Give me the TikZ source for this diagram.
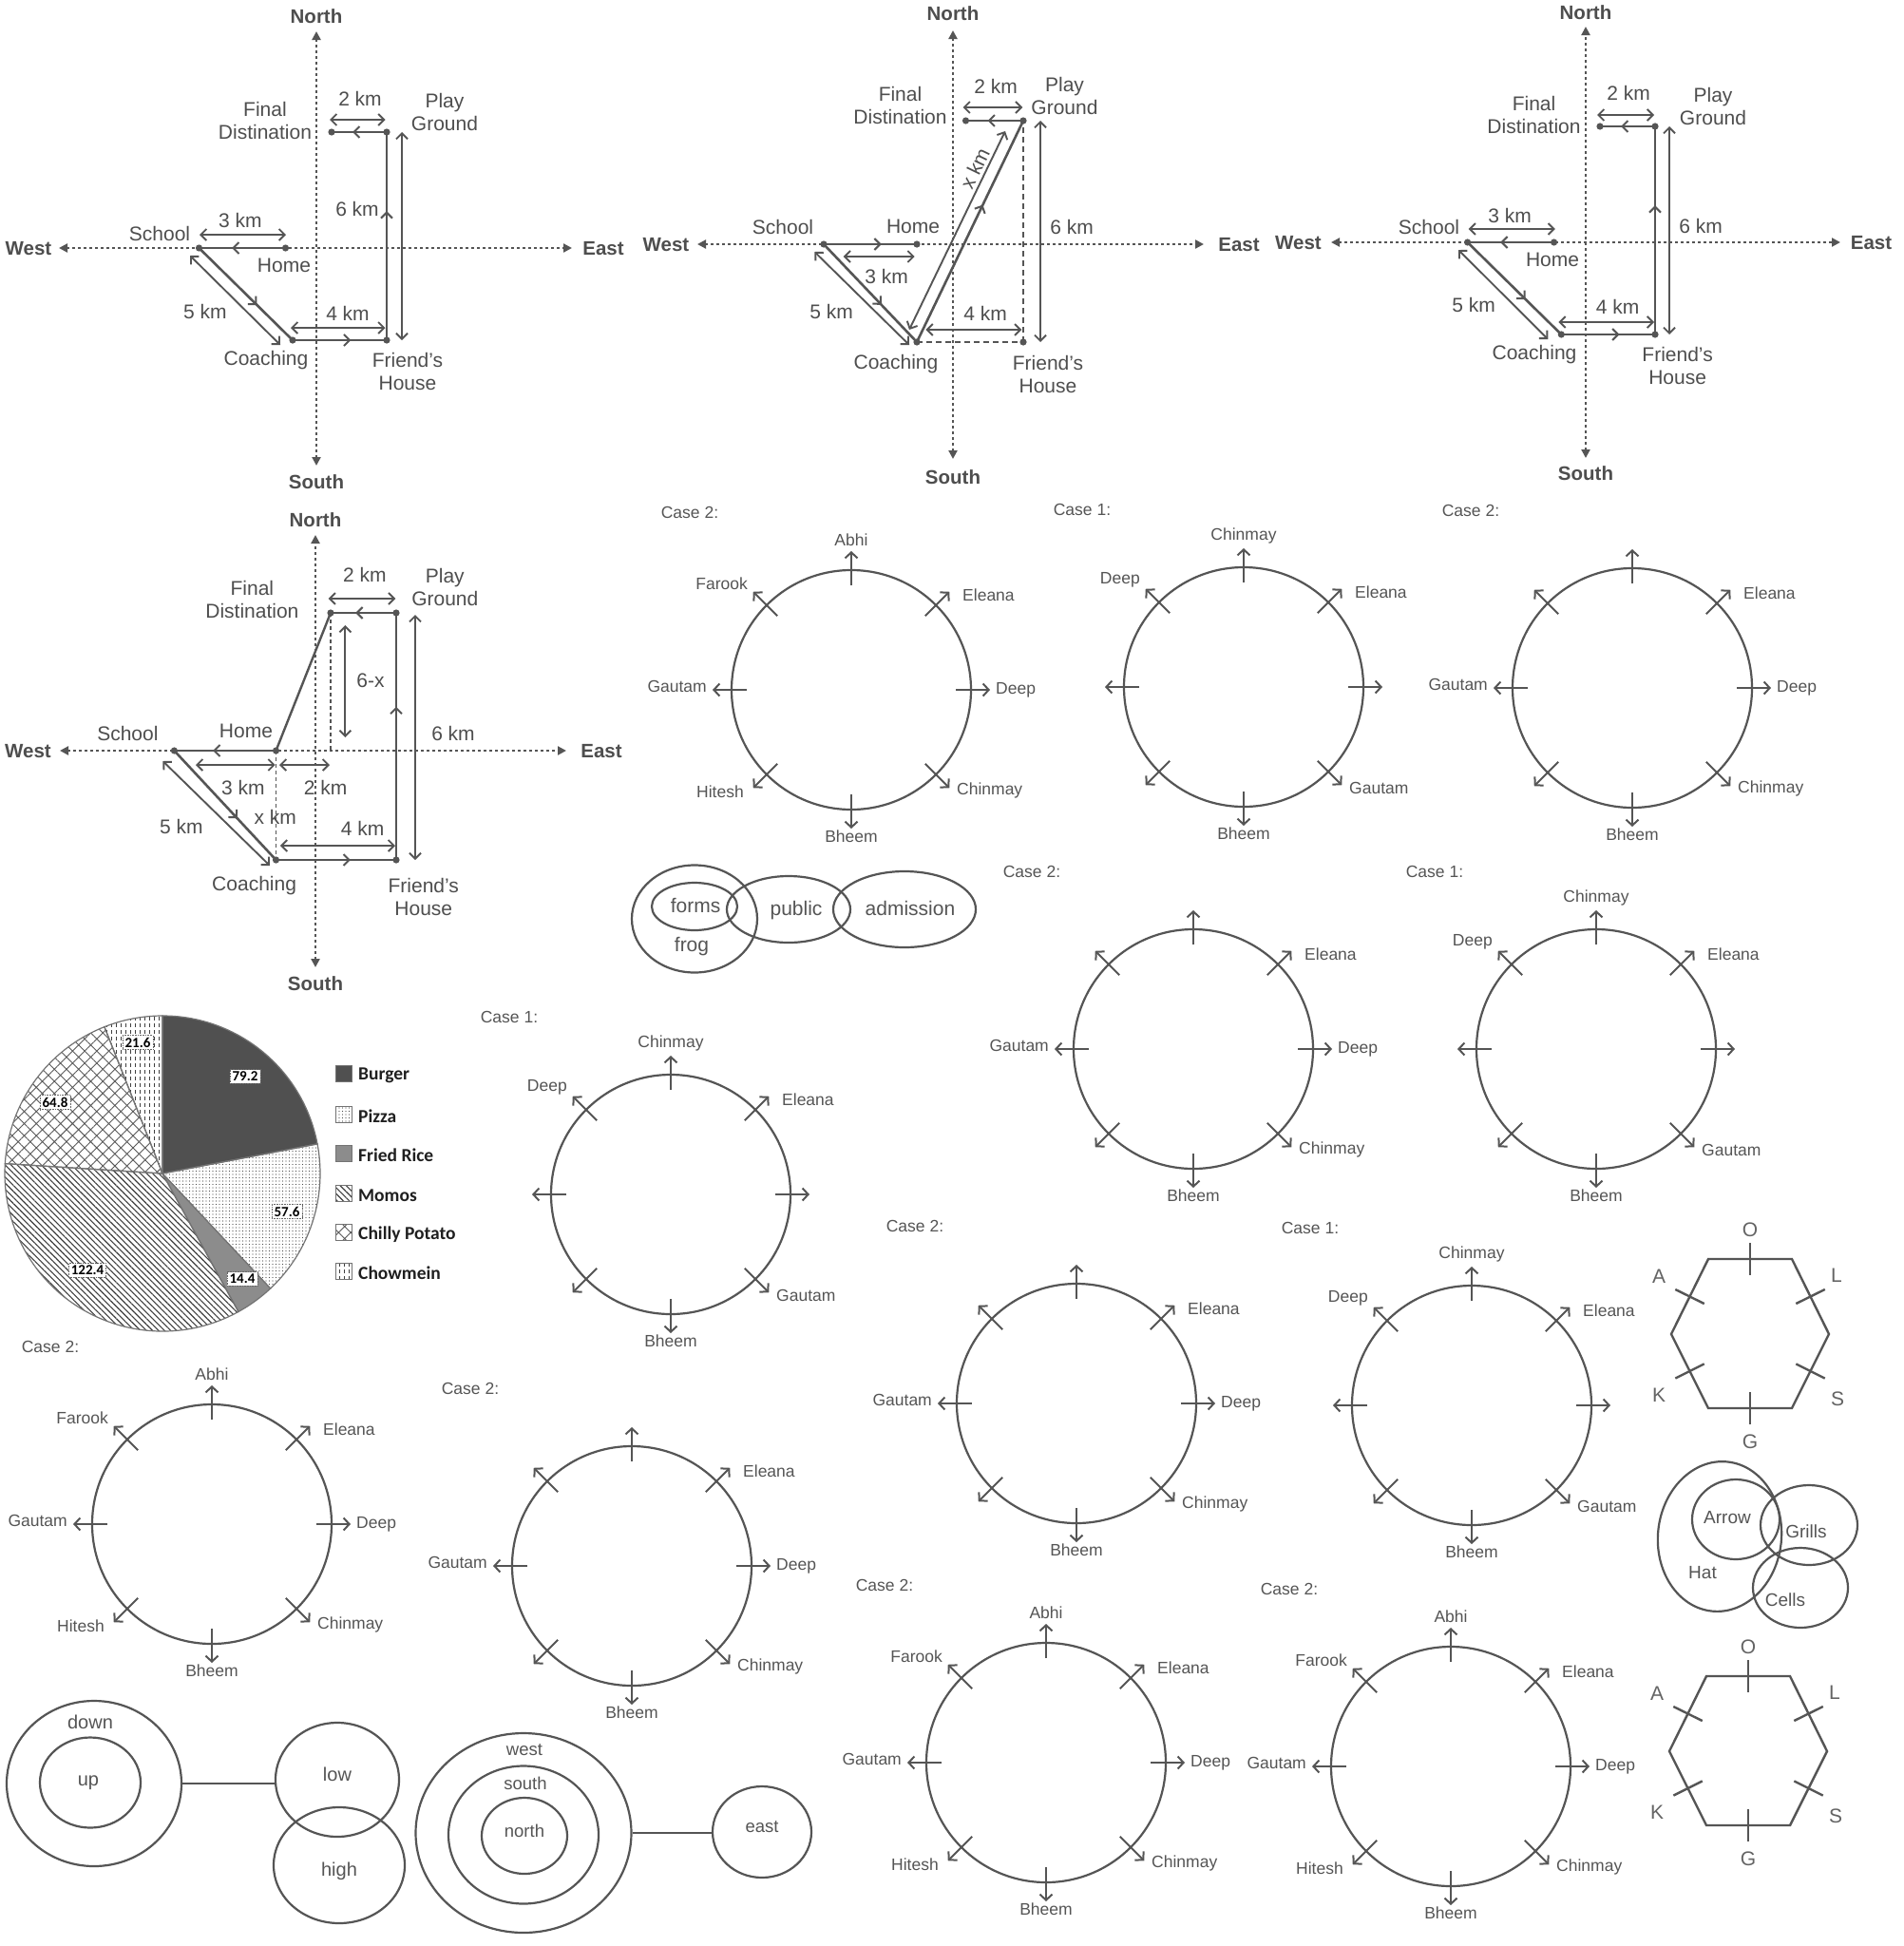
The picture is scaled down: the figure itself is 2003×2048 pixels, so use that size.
\documentclass[tikz,border=0pt]{standalone}
\usepackage{fontspec}
\setmainfont{Liberation Sans}
\newfontfamily\carl{Carlito}
\usetikzlibrary{arrows.meta,calc,decorations.markings,patterns.meta,shapes.geometric}
\definecolor{cg}{RGB}{85,85,85}
\definecolor{tg}{RGB}{78,78,78}
\definecolor{lg}{RGB}{100,100,100}
\definecolor{burg}{RGB}{80,80,80}
\definecolor{frice}{RGB}{140,140,140}
\pgfdeclarepattern{name=vdash, type=uncolored,
  bottom left={\pgfpoint{-0.5pt}{-0.5pt}}, top right={\pgfpoint{5.5pt}{7.5pt}},
  tile size={\pgfpoint{5pt}{7pt}},
  code={\pgfsetlinewidth{1pt}\pgfpathmoveto{\pgfpoint{2.5pt}{1pt}}\pgfpathlineto{\pgfpoint{2.5pt}{4.5pt}}\pgfusepath{stroke}}}
\tikzset{
  axisline/.style={draw=cg, line width=2.2pt, dash pattern=on 2.4pt off 3.6pt,
    {Triangle[length=9pt,width=9pt]}-{Triangle[length=9pt,width=9pt]}},
  route/.style={draw=cg, line width=2.6pt, postaction={decorate},
    decoration={markings, mark=at position 0.62 with {\arrow{Straight Barb[length=6pt,width=12pt,line width=2pt]}}}},
  plainroute/.style={draw=cg, line width=2.4pt},
  dist/.style={draw=cg, line width=1.9pt, {Straight Barb[length=6pt,width=12pt]}-{Straight Barb[length=6pt,width=12pt]}},
  dashroute/.style={draw=cg, line width=1.8pt, dash pattern=on 6pt off 4pt},
  dotroute/.style={draw=cg, line width=1.6pt, dash pattern=on 4pt off 3pt},
  dlbl/.style={font=\fontsize{21}{24}\selectfont, text=tg, align=center, inner sep=1pt},
  compass/.style={font=\bfseries\fontsize{20.5}{24}\selectfont, text=tg, inner sep=1pt},
  ringc/.style={circle, draw=cg, line width=2.2pt, minimum size=252pt, inner sep=0pt},
  seatarrow/.style={draw=cg, line width=2pt, -{Straight Barb[length=6pt,width=13pt]}},
  caselbl/.style={font=\fontsize{17.5}{20}\selectfont, text=cg, inner sep=1pt},
  seatlbl/.style={font=\fontsize{17.5}{20}\selectfont, text=cg, inner sep=2pt},
  ell/.style={ellipse, draw=cg, line width=2.2pt, inner sep=0pt},
  vtxt/.style={font=\fontsize{20}{23}\selectfont, text=cg, inner sep=1pt},
  hexline/.style={draw=cg, line width=2.4pt},
  hexlbl/.style={font=\fontsize{21}{24}\selectfont, text=lg, inner sep=1pt},
  pv/.style={font=\carl\bfseries\fontsize{15}{17}\selectfont, fill=white, draw=black!60, densely dotted, line width=0.6pt, inner sep=2.5pt, text=black},
  legsq/.style={rectangle, minimum size=17pt, draw=black!55, line width=0.8pt, inner sep=0pt},
  legtxt/.style={font=\carl\bfseries\fontsize{19.5}{22}\selectfont, text=black!88, anchor=west, inner sep=1pt},
  slice/.style={draw=black!55, line width=1.2pt},
}
% ring macros
\newcommand\ring[3]{%
  \node[ringc] (#1) at (#2) {};
  \node[caselbl] (#1-case) at ($(#1)+(-170,-187)$) {#3};
  \foreach \ang in {0,45,...,315}{\draw[seatarrow] ($(#1)+({-\ang}:110)$) -- ($(#1)+({-\ang}:146)$);}
}
\newcommand\seat[3]{\csname seatdir#2\endcsname{#1}{#3}}
\newcommand\seatdirN[2]{\node[seatlbl,anchor=south,yshift=3pt] (#1-N) at ($(#1)+(0,-146)$) {#2};}
\newcommand\seatdirNE[2]{\node[seatlbl,anchor=west,xshift=12pt,yshift=-3pt] (#1-NE) at ($(#1)+(103,-103)$) {#2};}
\newcommand\seatdirE[2]{\node[seatlbl,anchor=west,xshift=4pt] (#1-E) at ($(#1)+(146,0)$) {#2};}
\newcommand\seatdirSE[2]{\node[seatlbl,anchor=west,xshift=6pt,yshift=-3pt] (#1-SE) at ($(#1)+(103,103)$) {#2};}
\newcommand\seatdirS[2]{\node[seatlbl,anchor=north] (#1-S) at ($(#1)+(0,146)$) {#2};}
\newcommand\seatdirSW[2]{\node[seatlbl,anchor=east,xshift=-8pt,yshift=-4pt] (#1-SW) at ($(#1)+(-103,103)$) {#2};}
\newcommand\seatdirW[2]{\node[seatlbl,anchor=east,xshift=-4pt,yshift=4pt] (#1-W) at ($(#1)+(-146,0)$) {#2};}
\newcommand\seatdirNW[2]{\node[seatlbl,anchor=south east,xshift=-4pt] (#1-NW) at ($(#1)+(-103,-103)$) {#2};}
% hexagon macro
\newcommand\hexa[2]{%
  \coordinate (#1c) at (#2);
  \coordinate (#1a) at ($(#1c)+(-44,-79)$); \coordinate (#1b) at ($(#1c)+(44,-79)$);
  \coordinate (#1r) at ($(#1c)+(83,0)$);    \coordinate (#1d) at ($(#1c)+(44,78)$);
  \coordinate (#1e) at ($(#1c)+(-44,78)$);  \coordinate (#1l) at ($(#1c)+(-83,0)$);
  \draw[hexline] (#1a) -- (#1b) -- (#1r) -- (#1d) -- (#1e) -- (#1l) -- cycle;
  \foreach \p/\q in {a/b, b/r, r/d, d/e, e/l, l/a}{
    \draw[hexline] ($($(#1\p)!0.5!(#1\q)$)!17pt!90:(#1\q)$) -- ($($(#1\p)!0.5!(#1\q)$)!17pt!-90:(#1\q)$);}
  \node[hexlbl] (#1-O) at ($(#1c)+(0,-110)$) {O};
  \node[hexlbl] (#1-A) at ($(#1c)+(-96,-61)$) {A};
  \node[hexlbl] (#1-L) at ($(#1c)+(91,-62)$) {L};
  \node[hexlbl] (#1-K) at ($(#1c)+(-96,64)$) {K};
  \node[hexlbl] (#1-S) at ($(#1c)+(92,68)$) {S};
  \node[hexlbl] (#1-G) at ($(#1c)+(0,113)$) {G};
}
\begin{document}
\begin{tikzpicture}[x=1pt,y=-1pt]
\useasboundingbox[fill=white] (0,0) rectangle (2003,2048);

%================ Diagram 1 =================
\coordinate (a-n) at (333,33); \coordinate (a-s) at (333,490);
\coordinate (a-w) at (62,261); \coordinate (a-e) at (602,261);
\draw[axisline] (a-s) -- (a-n);
\draw[axisline] (a-w) -- (a-e);
\node[compass] (a-nl) at (333,17) {North};
\node[compass] (a-sl) at (333,507) {South};
\node[compass] (a-wl) at (30,262) {West};
\node[compass] (a-el) at (635,262) {East};
\coordinate (a-sc) at (209.5,261); \coordinate (a-ho) at (300.5,261);
\coordinate (a-co) at (308,358); \coordinate (a-fr) at (407,358);
\coordinate (a-pl) at (407,139); \coordinate (a-fi) at (349,139);
\draw[route] (a-ho) -- (a-sc);
\draw[route] (a-sc) -- (a-co);
\draw[route] (a-co) -- (a-fr);
\draw[route] (a-fr) -- (a-pl);
\draw[route] (a-pl) -- (a-fi);
\foreach \p in {sc,ho,co,fr,pl,fi}{\fill[cg] (a-\p) circle[radius=3.6];}
\draw[dist] ([shift={(0.5,-14)}]a-sc) -- ([shift={(0.5,-14)}]a-ho);
\draw[dist] ([shift={(-9.5,8)}]a-sc) -- ([shift={(-13,5)}]a-co);
\draw[dist] ([shift={(-2,-13)}]a-co) -- ([shift={(-1.5,-13)}]a-fr);
\draw[dist] ([shift={(16,0)}]a-pl) -- ([shift={(16,0)}]a-fr);
\draw[dist] ([shift={(-2,-13)}]a-fi) -- ([shift={(-1.5,-13)}]a-pl);
\node[dlbl] (a-l3) at (253,232) {3 km};
\node[dlbl] (a-l5) at (216,328) {5 km};
\node[dlbl] (a-l4) at (366,330) {4 km};
\node[dlbl] (a-l6) at (376,220) {6 km};
\node[dlbl] (a-l2) at (379,104) {2 km};
\node[dlbl] (a-tsc) at (168,246) {School};
\node[dlbl] (a-tho) at (299,279) {Home};
\node[dlbl] (a-tco) at (280,379) {Coaching};
\node[dlbl] (a-tfr) at (429,391) {Friend’s\\House};
\node[dlbl] (a-tfi) at (279,127) {Final\\Distination};
\node[dlbl] (a-tpl) at (468,118) {Play\\Ground};

%================ Diagram 2 =================
\coordinate (b-n) at (1003,32); \coordinate (b-s) at (1003,483);
\coordinate (b-w) at (734,257); \coordinate (b-e) at (1267,257);
\draw[axisline] (b-s) -- (b-n);
\draw[axisline] (b-w) -- (b-e);
\node[compass] (b-nl) at (1003,14) {North};
\node[compass] (b-sl) at (1003,502) {South};
\node[compass] (b-wl) at (701,258) {West};
\node[compass] (b-el) at (1304,258) {East};
\coordinate (b-sc) at (867,257); \coordinate (b-ho) at (965,257);
\coordinate (b-co) at (965,360); \coordinate (b-fr) at (1077,360);
\coordinate (b-pl) at (1077,127); \coordinate (b-fi) at (1016.5,127);
\draw[dashroute] (b-co) -- (b-fr);
\draw[dashroute] (b-fr) -- (b-pl);
\draw[route] (b-sc) -- (b-ho);
\draw[route] (b-sc) -- (b-co);
\draw[route] (b-co) -- (b-pl);
\draw[route] (b-pl) -- (b-fi);
\foreach \p in {sc,ho,co,fr,pl,fi}{\fill[cg] (b-\p) circle[radius=3.6];}
\draw[dist] ([shift={(20.7,13)}]b-sc) -- ([shift={(-2.3,13)}]b-ho);
\draw[dist] ([shift={(-9.7,8)}]b-sc) -- ([shift={(-8,3)}]b-co);
\draw[dist] ([shift={(-8,-13)}]b-co) -- ([shift={(-19,11)}]b-pl);
\draw[dist] ([shift={(9.4,-13)}]b-co) -- ([shift={(-1.6,-13)}]b-fr);
\draw[dist] ([shift={(18,0)}]b-pl) -- ([shift={(18,0)}]b-fr);
\draw[dist] ([shift={(-3,-14)}]b-fi) -- ([shift={(-0.7,-14)}]b-pl);
\node[dlbl] (b-l3) at (933,291) {3 km};
\node[dlbl] (b-l5) at (875,328) {5 km};
\node[dlbl, rotate=64.2] (b-lx) at (1026,177) {x km};
\node[dlbl] (b-l4) at (1037,330) {4 km};
\node[dlbl] (b-l6) at (1128,239) {6 km};
\node[dlbl] (b-l2) at (1048,91) {2 km};
\node[dlbl] (b-tsc) at (824,239) {School};
\node[dlbl] (b-tho) at (961,238) {Home};
\node[dlbl] (b-tco) at (943,383) {Coaching};
\node[dlbl] (b-tfr) at (1103,394) {Friend’s\\House};
\node[dlbl] (b-tfi) at (947.5,111) {Final\\Distination};
\node[dlbl] (b-tpl) at (1120.5,101) {Play\\Ground};

%================ Diagram 3 =================
\coordinate (c-n) at (1669,28); \coordinate (c-s) at (1669,482);
\coordinate (c-w) at (1401,255); \coordinate (c-e) at (1937,255);
\draw[axisline] (c-s) -- (c-n);
\draw[axisline] (c-w) -- (c-e);
\node[compass] (c-nl) at (1669,13) {North};
\node[compass] (c-sl) at (1669,498) {South};
\node[compass] (c-wl) at (1366.5,256) {West};
\node[compass] (c-el) at (1969.5,256) {East};
\coordinate (c-sc) at (1544.6,255); \coordinate (c-ho) at (1635.6,255);
\coordinate (c-co) at (1643.3,352); \coordinate (c-fr) at (1742,352);
\coordinate (c-pl) at (1742,133); \coordinate (c-fi) at (1684,133);
\draw[route] (c-ho) -- (c-sc);
\draw[route] (c-sc) -- (c-co);
\draw[route] (c-co) -- (c-fr);
\draw[route] (c-fr) -- (c-pl);
\draw[route] (c-pl) -- (c-fi);
\foreach \p in {sc,ho,co,fr,pl,fi}{\fill[cg] (c-\p) circle[radius=3.6];}
\draw[dist] ([shift={(1,-14)}]c-sc) -- ([shift={(1.3,-14)}]c-ho);
\draw[dist] ([shift={(-9.6,8)}]c-sc) -- ([shift={(-14,5)}]c-co);
\draw[dist] ([shift={(-3,-13)}]c-co) -- ([shift={(-1,-13)}]c-fr);
\draw[dist] ([shift={(15,0)}]c-pl) -- ([shift={(15,0)}]c-fr);
\draw[dist] ([shift={(-3,-12)}]c-fi) -- ([shift={(-1,-12)}]c-pl);
\node[dlbl] (c-l3) at (1589,227) {3 km};
\node[dlbl] (c-l5) at (1551,321) {5 km};
\node[dlbl] (c-l4) at (1702.5,323) {4 km};
\node[dlbl] (c-l6) at (1790,238) {6 km};
\node[dlbl] (c-l2) at (1714,98) {2 km};
\node[dlbl] (c-tsc) at (1504,239) {School};
\node[dlbl] (c-tho) at (1634,273) {Home};
\node[dlbl] (c-tco) at (1615,373) {Coaching};
\node[dlbl] (c-tfr) at (1765.6,385) {Friend's\\House};
\node[dlbl] (c-tfi) at (1614.5,121) {Final\\Distination};
\node[dlbl] (c-tpl) at (1803,112) {Play\\Ground};

%================ Diagram 4 =================
\coordinate (d-n) at (332,563); \coordinate (d-s) at (332,1018);
\coordinate (d-w) at (63,790); \coordinate (d-e) at (596,790);
\draw[axisline] (d-s) -- (d-n);
\draw[axisline] (d-w) -- (d-e);
\node[compass] (d-nl) at (332,547) {North};
\node[compass] (d-sl) at (332,1035) {South};
\node[compass] (d-wl) at (29.5,791) {West};
\node[compass] (d-el) at (633,791) {East};
\coordinate (d-sc) at (183.4,790); \coordinate (d-ho) at (290.5,790);
\coordinate (d-co) at (290.5,905); \coordinate (d-fr) at (417,905);
\coordinate (d-pl) at (417,645); \coordinate (d-fi) at (348,645);
\coordinate (d-fx) at (348,790);
\draw[dotroute] (d-ho) -- (d-co);
\draw[dotroute] (d-fi) -- (d-fx);
\draw[plainroute] (d-ho) -- (d-fi);
\draw[route] (d-ho) -- (d-sc);
\draw[route] (d-sc) -- (d-co);
\draw[route] (d-co) -- (d-fr);
\draw[route] (d-fr) -- (d-pl);
\draw[route] (d-pl) -- (d-fi);
\foreach \p in {sc,ho,co,fr,pl,fi}{\fill[cg] (d-\p) circle[radius=3.6];}
\draw[dist] ([shift={(22.6,15)}]d-sc) -- ([shift={(-0.8,15)}]d-ho);
\draw[dist] ([shift={(3.5,15)}]d-ho) -- ([shift={(-1,15)}]d-fx);
\draw[dist] ([shift={(-12,11)}]d-sc) -- ([shift={(-6.5,6)}]d-co);
\draw[dist] ([shift={(15.4,13)}]d-fi) -- ([shift={(15.4,-14)}]d-fx);
\draw[dist] ([shift={(4.4,-15)}]d-co) -- ([shift={(-1,-15)}]d-fr);
\draw[dist] ([shift={(20,2)}]d-pl) -- ([shift={(20,0)}]d-fr);
\draw[dist] ([shift={(-2.4,-15)}]d-fi) -- ([shift={(-0.7,-15)}]d-pl);
\node[dlbl] (d-l3) at (256,829) {3 km};
\node[dlbl] (d-l2b) at (342.6,829) {2 km};
\node[dlbl] (d-l5) at (190.8,870) {5 km};
\node[dlbl] (d-lx) at (289.7,860) {x km};
\node[dlbl] (d-l6x) at (390,716) {6-x};
\node[dlbl] (d-l4) at (381.6,872) {4 km};
\node[dlbl] (d-l6) at (477,772) {6 km};
\node[dlbl] (d-l2) at (383.8,605) {2 km};
\node[dlbl] (d-tsc) at (134.4,772) {School};
\node[dlbl] (d-tho) at (259,769) {Home};
\node[dlbl] (d-tco) at (267.6,932) {Coaching};
\node[dlbl] (d-tfr) at (445.8,944) {Friend's\\House};
\node[dlbl] (d-tfi) at (265.4,631) {Final\\Distination};
\node[dlbl] (d-tpl) at (468.3,618) {Play\\Ground};

%================ Pie chart =================
\coordinate (pc) at (171,1235);
\path[slice, fill=burg] (pc) -- ++(-90:166) arc[start angle=-90, end angle=-10.8, radius=166] -- cycle;
\path[slice, pattern={Dots[distance=3.5pt, radius=0.6pt]}, pattern color=black!70] (pc) -- ++(-10.8:166) arc[start angle=-10.8, end angle=46.8, radius=166] -- cycle;
\path[slice, fill=frice] (pc) -- ++(46.8:166) arc[start angle=46.8, end angle=61.2, radius=166] -- cycle;
\path[slice, pattern={Lines[angle=-45, distance=4.5pt, line width=1.1pt]}, pattern color=black!75] (pc) -- ++(61.2:166) arc[start angle=61.2, end angle=183.6, radius=166] -- cycle;
\path[slice, pattern={Hatch[angle=45, distance=9pt, line width=0.9pt]}, pattern color=black!65] (pc) -- ++(183.6:166) arc[start angle=183.6, end angle=248.4, radius=166] -- cycle;
\path[slice, pattern={vdash}, pattern color=black!75] (pc) -- ++(248.4:166) arc[start angle=248.4, end angle=270, radius=166] -- cycle;
\node[pv] (pv1) at (258,1133) {79.2};
\node[pv] (pv2) at (302,1275) {57.6};
\node[pv] (pv3) at (255,1346) {14.4};
\node[pv] (pv4) at (92,1337) {122.4};
\node[pv] (pv5) at (58,1160) {64.8};
\node[pv] (pv6) at (145,1097) {21.6};
\node[legsq, fill=burg] (lg1) at (362,1130) {};
\node[legsq, pattern={Dots[distance=3.5pt, radius=0.6pt]}, pattern color=black!70] (lg2) at (362,1173) {};
\node[legsq, fill=frice] (lg3) at (362,1214) {};
\node[legsq, pattern={Lines[angle=-45, distance=4.5pt, line width=1.1pt]}, pattern color=black!75] (lg4) at (362,1256) {};
\node[legsq, pattern={Hatch[angle=45, distance=9pt, line width=0.9pt]}, pattern color=black!65] (lg5) at (362,1297) {};
\node[legsq, pattern={vdash}, pattern color=black!75] (lg6) at (362,1338) {};
\node[legtxt] (lt1) at (376,1132) {Burger};
\node[legtxt] (lt2) at (376,1175) {Pizza};
\node[legtxt] (lt3) at (376,1216) {Fried Rice};
\node[legtxt] (lt4) at (376,1258) {Momos};
\node[legtxt] (lt5) at (376,1299) {Chilly Potato};
\node[legtxt] (lt6) at (376,1340) {Chowmein};

%================ Seating rings =================
\ring{r1}{896,726}{Case 2:}
\seat{r1}{N}{Abhi}\seat{r1}{NE}{Eleana}\seat{r1}{E}{Deep}\seat{r1}{SE}{Chinmay}
\seat{r1}{S}{Bheem}\seat{r1}{SW}{Hitesh}\seat{r1}{W}{Gautam}\seat{r1}{NW}{Farook}

\ring{r2}{1309,723}{Case 1:}
\seat{r2}{N}{Chinmay}\seat{r2}{NW}{Deep}\seat{r2}{NE}{Eleana}\seat{r2}{SE}{Gautam}\seat{r2}{S}{Bheem}

\ring{r3}{1718,724}{Case 2:}
\seat{r3}{NE}{Eleana}\seat{r3}{E}{Deep}\seat{r3}{SE}{Chinmay}\seat{r3}{S}{Bheem}\seat{r3}{W}{Gautam}

\ring{r4}{1256,1104}{Case 2:}
\seat{r4}{NE}{Eleana}\seat{r4}{E}{Deep}\seat{r4}{SE}{Chinmay}\seat{r4}{S}{Bheem}\seat{r4}{W}{Gautam}

\ring{r5}{1680,1104}{Case 1:}
\seat{r5}{N}{Chinmay}\seat{r5}{NW}{Deep}\seat{r5}{NE}{Eleana}\seat{r5}{SE}{Gautam}\seat{r5}{S}{Bheem}

\ring{r6}{706,1257}{Case 1:}
\seat{r6}{N}{Chinmay}\seat{r6}{NW}{Deep}\seat{r6}{NE}{Eleana}\seat{r6}{SE}{Gautam}\seat{r6}{S}{Bheem}

\ring{r7}{1133,1477}{Case 2:}
\seat{r7}{NE}{Eleana}\seat{r7}{E}{Deep}\seat{r7}{SE}{Chinmay}\seat{r7}{S}{Bheem}\seat{r7}{W}{Gautam}

\ring{r8}{1549,1479}{Case 1:}
\seat{r8}{N}{Chinmay}\seat{r8}{NW}{Deep}\seat{r8}{NE}{Eleana}\seat{r8}{SE}{Gautam}\seat{r8}{S}{Bheem}

\ring{r9}{223,1604}{Case 2:}
\seat{r9}{N}{Abhi}\seat{r9}{NE}{Eleana}\seat{r9}{E}{Deep}\seat{r9}{SE}{Chinmay}
\seat{r9}{S}{Bheem}\seat{r9}{SW}{Hitesh}\seat{r9}{W}{Gautam}\seat{r9}{NW}{Farook}

\ring{r10}{665,1648}{Case 2:}
\seat{r10}{NE}{Eleana}\seat{r10}{E}{Deep}\seat{r10}{SE}{Chinmay}\seat{r10}{S}{Bheem}\seat{r10}{W}{Gautam}

\ring{r11}{1101,1855}{Case 2:}
\seat{r11}{N}{Abhi}\seat{r11}{NE}{Eleana}\seat{r11}{E}{Deep}\seat{r11}{SE}{Chinmay}
\seat{r11}{S}{Bheem}\seat{r11}{SW}{Hitesh}\seat{r11}{W}{Gautam}\seat{r11}{NW}{Farook}

\ring{r12}{1527,1859}{Case 2:}
\seat{r12}{N}{Abhi}\seat{r12}{NE}{Eleana}\seat{r12}{E}{Deep}\seat{r12}{SE}{Chinmay}
\seat{r12}{S}{Bheem}\seat{r12}{SW}{Hitesh}\seat{r12}{W}{Gautam}\seat{r12}{NW}{Farook}

%================ Venn: forms / frog / public / admission =================
\node[ell, minimum width=132pt, minimum height=113pt] (frog) at (731,967) {};
\node[ell, minimum width=90pt, minimum height=50pt] (forms) at (731,954) {};
\node[ell, minimum width=130pt, minimum height=70pt] (public) at (830,957) {};
\node[ell, minimum width=150pt, minimum height=80pt] (admission) at (952,957) {};
\node[vtxt, font=\fontsize{21}{24}\selectfont] (t-forms) at (732,953) {forms};
\node[vtxt, font=\fontsize{21}{24}\selectfont] (t-frog) at (728,996) {frog};
\node[vtxt, font=\fontsize{21}{24}\selectfont] (t-public) at (838,958) {public};
\node[vtxt, font=\fontsize{21}{24}\selectfont] (t-adm) at (958,956) {admission};

%================ Hexagons =================
\hexa{h1}{1842,1404}
\hexa{h2}{1840,1843}

%================ Venn: Hat / Arrow / Grills / Cells =================
\node[ell, minimum width=130pt, minimum height=158pt, rotate=-6] (hat) at (1810,1617) {};
\node[ell, minimum width=92pt, minimum height=84pt] (arrow) at (1827,1599) {};
\node[ell, minimum width=102pt, minimum height=84pt] (grills) at (1904,1605) {};
\node[ell, minimum width=100pt, minimum height=84pt] (cells) at (1895,1671) {};
\node[vtxt, font=\fontsize{19}{22}\selectfont] (t-arrow) at (1818,1597) {Arrow};
\node[vtxt, font=\fontsize{19}{22}\selectfont] (t-grills) at (1901,1612) {Grills};
\node[vtxt, font=\fontsize{19}{22}\selectfont] (t-hat) at (1792,1655) {Hat};
\node[vtxt, font=\fontsize{19}{22}\selectfont] (t-cells) at (1879,1684) {Cells};

%================ Bottom-left circles =================
\node[ell, minimum width=184pt, minimum height=174pt] (down) at (99,1877) {};
\node[ell, minimum width=106pt, minimum height=95pt] (up) at (95,1876) {};
\node[ell, minimum width=130pt, minimum height=120pt] (low) at (355,1873) {};
\node[ell, minimum width=138pt, minimum height=122pt] (high) at (357,1963) {};
\draw[draw=cg, line width=2.2pt] (down.east) -- (low.west |- down.east);
\node[vtxt] (t-down) at (95,1812) {down};
\node[vtxt] (t-up) at (93,1876) {up};
\node[vtxt] (t-low) at (355,1867) {low};
\node[vtxt] (t-high) at (357,1969) {high};

\node[ell, minimum width=227pt, minimum height=210pt] (west) at (551,1929) {};
\node[ell, minimum width=158pt, minimum height=145pt] (south) at (551,1931) {};
\node[ell, minimum width=90pt, minimum height=80pt] (north) at (552,1932) {};
\node[ell, minimum width=104pt, minimum height=96pt] (east) at (802,1928) {};
\draw[draw=cg, line width=2.2pt] (west.east) -- (west.east -| east.west);
\node[vtxt, font=\fontsize{18.5}{22}\selectfont] (t-west) at (552,1842) {west};
\node[vtxt, font=\fontsize{18.5}{22}\selectfont] (t-south) at (553,1877) {south};
\node[vtxt, font=\fontsize{18.5}{22}\selectfont] (t-north) at (552,1927) {north};
\node[vtxt, font=\fontsize{18.5}{22}\selectfont] (t-east) at (802,1923) {east};
\end{tikzpicture}
\end{document}
